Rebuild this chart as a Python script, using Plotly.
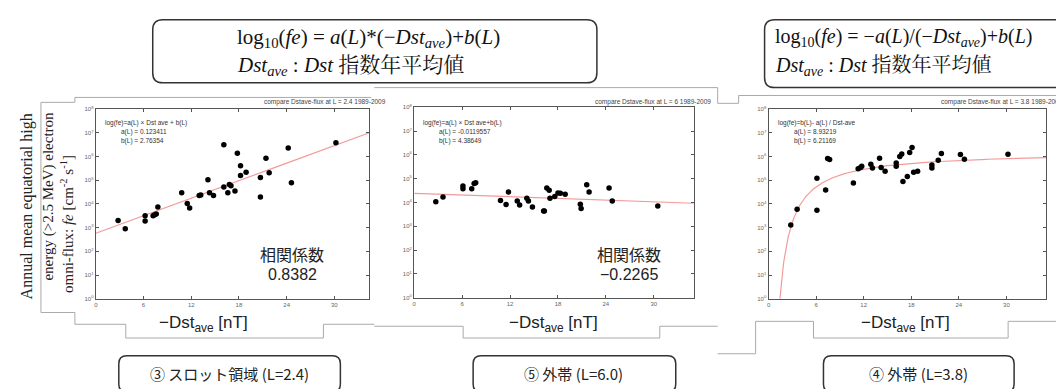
import numpy as np
import plotly.graph_objects as go

W, H = 1064, 389

# ---------------- data ----------------
dst_L24 = [2.8, 3.7, 6.2, 6.2, 7.2, 7.4, 7.6, 7.8, 10.8, 11.5, 11.8, 13.0, 13.2, 14.1, 14.3, 14.8,
           16.1, 16.1, 16.6, 16.8, 17.0, 17.5, 17.8, 18.2, 18.2, 18.9, 20.7, 20.7, 21.4, 21.8,
           24.2, 24.6, 30.2]
flux_L24 = [2.0e3, 8.9e2, 3.2e3, 1.9e3, 3.2e3, 3.5e3, 3.8e3, 7.4e3, 3.0e4, 1.05e4, 6.8e3, 2.3e4,
            2.4e4, 1.05e5, 3.0e4, 2.3e4, 3.2e6, 5.2e4, 3.0e4, 6.6e4, 5.9e4, 3.5e4, 1.4e6, 4.1e5,
            1.6e5, 2.2e5, 1.3e5, 1.95e4, 8.5e5, 2.1e5, 2.3e6, 7.9e4, 3.8e6]

dst_L60 = [2.7, 3.6, 6.1, 6.1, 7.2, 7.5, 7.7, 10.8, 11.5, 11.8, 12.9, 13.2, 14.1, 14.3, 14.8,
           16.2, 16.3, 16.6, 16.9, 17.0, 17.6, 18.0, 18.3, 18.9, 20.8, 20.9, 21.6, 21.9, 24.4,
           24.8, 30.5]
flux_L60 = [1.07e4, 1.7e4, 4.9e4, 3.8e4, 3.8e4, 6.3e4, 6.8e4, 1.2e4, 8.3e3, 2.75e4, 1.17e4, 7.8e3,
            1.5e4, 1.17e4, 6.5e3, 4.4e3, 4.4e3, 4.1e4, 3.3e4, 1.5e4, 1.8e4, 2.5e4, 2.45e4, 2.2e4,
            8.5e3, 5.6e3, 5.5e4, 2.75e4, 4.1e4, 1.15e4, 7.1e3]

dst_L38 = [2.8, 3.6, 6.1, 6.1, 7.2, 7.45, 7.7, 10.7, 11.3, 11.6, 11.75, 12.9, 13.1, 14.0, 14.2,
           14.7, 16.1, 16.1, 16.55, 16.8, 16.95, 17.5, 17.8, 18.1, 18.3, 18.8, 20.6, 20.6, 21.4,
           21.8, 24.2, 24.7, 30.2]
flux_L38 = [1.3e3, 6.0e3, 1.23e5, 5.4e3, 3.9e4, 8.3e5, 7.6e5, 7.6e4, 3.1e5, 3.5e5, 3.9e5, 4.7e5,
            3.3e5, 8.5e5, 3.5e5, 2.4e5, 5.4e5, 3.9e5, 1.0e6, 1.3e6, 8.9e4, 1.45e5, 1.5e6, 2.4e6,
            2.2e5, 2.4e5, 4.4e5, 3.3e5, 7.1e5, 1.35e6, 1.23e6, 7.8e5, 1.26e6]

fit_a = [0.123411, -0.0119557, 8.93219]
fit_b = [2.76354, 4.38649, 6.21169]
fit_labels = ["log(fe)=a(L) × Dst ave + b(L)", "log(fe)=a(L) × Dst ave+b(L)", "log(fe)=b(L)- a(L) / Dst-ave"]
a_text = ["0.123411", "-0.0119557", "8.93219"]
b_text = ["2.76354", "4.38649", "6.21169"]
corr_values = ["0.8382", "−0.2265"]
L_values = ["2.4", "6", "3.8"]
region_labels = ["③ スロット領域 (L=2.4)", "⑤ 外帯 (L=6.0)", "④ 外帯 (L=3.8)"]
x_ticks = [0, 6, 12, 18, 24, 30]
y_exponents = list(range(0, 9))

# ---------------- layout helpers ----------------
def px(x):
    return x / W

def py(y):
    return 1 - y / H

panels = [
    dict(x0=86, x1=360, y0=99, y1=292, xmax=34.4),
    dict(x0=405, x1=685, y0=97, y1=291, xmax=35),
    dict(x0=760, x1=1038, y0=99, y1=292, xmax=35),
]
datasets = [(dst_L24, flux_L24), (dst_L60, flux_L60), (dst_L38, flux_L38)]

fig = go.Figure()
layout = dict(width=W, height=H, margin=dict(l=0, r=0, t=0, b=0), autosize=False,
              paper_bgcolor="white", plot_bgcolor="white", showlegend=False)

tick_font = dict(family="Liberation Sans, Arial", size=6, color="#666")
annotations = []
shapes = []

for i, (p, (xs, ys)) in enumerate(zip(panels, datasets)):
    n = "" if i == 0 else str(i + 1)
    xa, ya = "x" + n, "y" + n
    # fit curve
    if i < 2:
        xf = np.linspace(0, p["xmax"], 200)
        yf = 10 ** (fit_a[i] * xf + fit_b[i])
    else:
        xf = np.linspace(fit_a[i] / fit_b[i], p["xmax"], 400)
        yf = 10 ** (fit_b[i] - fit_a[i] / xf)
    fig.add_trace(go.Scatter(x=xf, y=yf, mode="lines", line=dict(color="#f29a9a", width=1.2),
                             xaxis=xa, yaxis=ya, hoverinfo="skip"))
    fig.add_trace(go.Scatter(x=xs, y=ys, mode="markers", marker=dict(color="black", size=5.5),
                             xaxis=xa, yaxis=ya))
    axis_common = dict(showline=True, linecolor="#555", linewidth=1.3, mirror="allticks",
                       ticks="inside", ticklen=3, tickcolor="#555", showgrid=False, zeroline=False,
                       tickfont=tick_font)
    layout["xaxis" + n] = dict(axis_common, domain=[px(p["x0"]), px(p["x1"])],
                               range=[0, p["xmax"]], tickvals=x_ticks, anchor=ya)
    layout["yaxis" + n] = dict(axis_common, domain=[py(p["y1"]), py(p["y0"])], type="log",
                               range=[0, 8], tickvals=[10 ** e for e in y_exponents],
                               ticktext=["10<sup>%d</sup>" % e for e in y_exponents], anchor=xa)
    # panel title
    annotations.append(dict(x=px(p["x1"] + 19), y=py(92), xref="paper", yref="paper",
                            text="compare Dstave-flux at L = %s 1989-2009" % L_values[i],
                            showarrow=False, xanchor="right", yanchor="middle",
                            font=dict(family="Liberation Sans", size=6.5, color="#444")))
    # fit text
    fx = p["x0"] + 7
    annotations.append(dict(x=px(fx), y=py(113), xref="paper", yref="paper", text=fit_labels[i],
                            showarrow=False, xanchor="left", yanchor="middle",
                            font=dict(family="Liberation Sans", size=6.5, color="#333")))
    annotations.append(dict(x=px(fx + 16), y=py(122), xref="paper", yref="paper",
                            text="a(L) = " + a_text[i], showarrow=False, xanchor="left",
                            yanchor="middle", font=dict(family="Liberation Sans", size=6.5, color="#333")))
    annotations.append(dict(x=px(fx + 16), y=py(131), xref="paper", yref="paper",
                            text="b(L) = " + b_text[i], showarrow=False, xanchor="left",
                            yanchor="middle", font=dict(family="Liberation Sans", size=6.5, color="#333")))

# correlation labels
corr_x = [283, 620]
for cx, cv in zip(corr_x, corr_values):
    annotations.append(dict(x=px(cx), y=py(246), xref="paper", yref="paper", text="相関係数",
                            showarrow=False, xanchor="center", yanchor="middle",
                            font=dict(family="Noto Sans CJK JP", size=16, color="#222")))
    annotations.append(dict(x=px(cx), y=py(267), xref="paper", yref="paper", text=cv,
                            showarrow=False, xanchor="center", yanchor="middle",
                            font=dict(family="Liberation Sans", size=16, color="#222")))

# x-axis titles
for cx in [194, 545, 897]:
    annotations.append(dict(x=px(cx), y=py(318), xref="paper", yref="paper",
                            text="−Dst<sub>ave</sub> [nT]", showarrow=False, xanchor="center",
                            yanchor="middle",
                            font=dict(family="Liberation Sans", size=17, color="#222")))

# y-axis title (three rotated lines)
ylines = [(17, 198, "Annual mean equatorial high", 16),
          (39, 187, "energy (&gt;2.5 MeV) electron", 15),
          (57, 216, "omni-flux: <i>fe</i> [cm<sup>-2</sup> s<sup>-1</sup>]", 15)]
for x, y, t, s in ylines:
    annotations.append(dict(x=px(x), y=py(y), xref="paper", yref="paper", text=t, textangle=-90,
                            showarrow=False, xanchor="center", yanchor="middle",
                            font=dict(family="Liberation Serif", size=s, color="#222")))

# formula boxes
serif = "Liberation Serif, Noto Serif CJK JP, Noto Sans CJK JP"
form1 = ["log<sub>10</sub>(<i>fe</i>) = <i>a</i>(<i>L</i>)*(−<i>Dst<sub>ave</sub></i>)+<i>b</i>(<i>L</i>)",
         "<i>Dst<sub>ave</sub></i> : <i>Dst</i> 指数年平均値"]
form2 = ["log<sub>10</sub>(<i>fe</i>) = −<i>a</i>(<i>L</i>)/(−<i>Dst<sub>ave</sub></i>)+<i>b</i>(<i>L</i>)",
         "<i>Dst<sub>ave</sub></i> : <i>Dst</i> 指数年平均値"]
for x0, lines, fs in [(225, form1, 21), (764, form2, 20)]:
    for y, t in zip([26, 55], lines):
        annotations.append(dict(x=px(x0), y=py(y), xref="paper", yref="paper", text=t,
                                showarrow=False, xanchor="left", yanchor="middle",
                                font=dict(family=serif, size=fs, color="#111")))

# region labels
for (cx, t) in zip([220, 565, 910], region_labels):
    annotations.append(dict(x=px(cx), y=py(368), xref="paper", yref="paper", text=t,
                            showarrow=False, xanchor="center", yanchor="middle",
                            font=dict(family="Noto Sans CJK JP", size=15, color="#222")))


def rrect(x0, y0, x1, y1, r, color="#333", width=1.5):
    pts = (f"M {px(x0 + r)},{py(y0)} L {px(x1 - r)},{py(y0)} Q {px(x1)},{py(y0)} {px(x1)},{py(y0 + r)} "
           f"L {px(x1)},{py(y1 - r)} Q {px(x1)},{py(y1)} {px(x1 - r)},{py(y1)} "
           f"L {px(x0 + r)},{py(y1)} Q {px(x0)},{py(y1)} {px(x0)},{py(y1 - r)} "
           f"L {px(x0)},{py(y0 + r)} Q {px(x0)},{py(y0)} {px(x0 + r)},{py(y0)} Z")
    return dict(type="path", xref="paper", yref="paper", path=pts,
                line=dict(color=color, width=width))


def polyline(points, color="#aaa", width=1):
    d = "M " + " L ".join(f"{px(x)},{py(y)}" for x, y in points)
    return dict(type="path", xref="paper", yref="paper", path=d, line=dict(color=color, width=width))


shapes.append(rrect(143, 8, 588, 72, 10))
shapes.append(rrect(756, 8, 1061, 77, 10))
for x0, x1 in [(109, 331), (464, 667), (815, 1006)]:
    shapes.append(rrect(x0, 350, x1, 387, 8))

# gray frame remnants
shapes.append(polyline([(31, 306), (31, 92), (65, 92), (65, 87), (362, 87)]))
shapes.append(polyline([(31, 306), (65, 306), (65, 318), (116, 318), (116, 332), (314, 332),
                        (314, 318), (365, 318)]))
shapes.append(polyline([(365, 77), (709, 77), (709, 93), (730, 93), (730, 85), (1064, 85)]))
shapes.append(polyline([(365, 320), (454, 320), (454, 332), (651, 332), (651, 320), (709, 320)]))
shapes.append(polyline([(709, 348), (747, 348), (747, 315), (805, 315), (805, 332), (1000, 332),
                        (1000, 315), (1064, 315)]))

layout["annotations"] = annotations
layout["shapes"] = shapes
fig.update_layout(**layout)
fig.write_html("out.html")
